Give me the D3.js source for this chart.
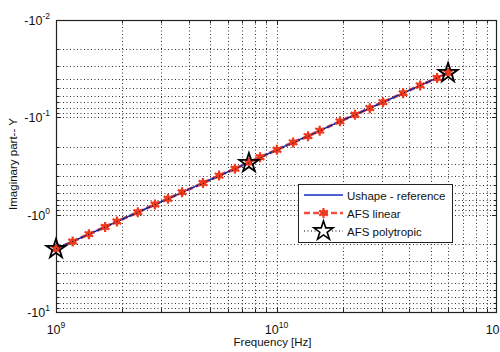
<!DOCTYPE html>
<html>
<head>
<meta charset="utf-8">
<script src="https://cdn.jsdelivr.net/npm/d3@7"></script>
<style>
  body { margin: 0; background: #fff; }
  text { font-family: "Liberation Sans", Arial, sans-serif; fill: #111; }
</style>
</head>
<body>
<div id="chart"></div>
<script>
// frequencies in GHz, imaginary part magnitude (axis shows -|Y|)
var freqGHz = [1, 1.19, 1.41, 1.67, 1.89, 2.35, 2.81, 3.22, 3.73, 4.64, 5.49, 6.48, 7.5,
               8.42, 10.05, 11.9, 13.9, 15.7, 19.4, 22.7, 26.5, 30.4, 37.5, 44.8, 53.5, 60];
var refY = [2.25, 1.885, 1.587, 1.337, 1.177, 0.944, 0.787, 0.685, 0.590, 0.472, 0.398, 0.336, 0.290,
            0.258, 0.215, 0.181, 0.155, 0.137, 0.110, 0.094, 0.0803, 0.0699, 0.0564, 0.0471, 0.0393, 0.0350];
var linearY = [2.25, 1.89, 1.585, 1.34, 1.175, 0.945, 0.785, 0.686, 0.589, 0.473, 0.397, 0.337, 0.291,
               0.257, 0.215, 0.181, 0.156, 0.137, 0.110, 0.094, 0.0805, 0.0698, 0.0565, 0.0470, 0.0394, 0.0350];
var polyFreqGHz = [1, 7.5, 60];
var polyY = [2.25, 0.295, 0.035];

var xTickExp = [9, 10, 11];
var yTickExp = [-2, -1, 0, 1];
var legendLabels = ["Ushape - reference", "AFS linear", "AFS polytropic"];

var width = 500, height = 352;
var margin = { top: 20, right: 3, bottom: 40, left: 56 };

var svg = d3.select("#chart").append("svg")
    .attr("width", width)
    .attr("height", height);

var x = d3.scaleLog().domain([1e9, 1e11]).range([margin.left, width - margin.right]);
var y = d3.scaleLog().domain([1e-2, 10]).range([margin.top, height - margin.bottom]);

var x0 = x.range()[0], x1 = x.range()[1], y0 = y.range()[0], y1 = y.range()[1];

// grid lines (major + minor, all dotted)
var xGrid = [], yGrid = [];
[1e9, 1e10].forEach(function(d) { for (var k = 1; k < 10; k++) xGrid.push(d * k); });
[1e-2, 1e-1, 1].forEach(function(d) { for (var k = 1; k < 10; k++) yGrid.push(d * k); });

var grid = svg.append("g")
    .attr("stroke", "#333")
    .attr("stroke-width", 1)
    .attr("stroke-dasharray", "1,2.5");

grid.selectAll(".gx").data(xGrid.slice(1)).enter().append("line")
    .attr("x1", d => Math.round(x(d)) + 0.5).attr("x2", d => Math.round(x(d)) + 0.5)
    .attr("y1", y0).attr("y2", y1);
grid.selectAll(".gy").data(yGrid.slice(1)).enter().append("line")
    .attr("y1", d => Math.round(y(d)) + 0.5).attr("y2", d => Math.round(y(d)) + 0.5)
    .attr("x1", x0).attr("x2", x1);

// inner ticks on all sides
var ticks = svg.append("g").attr("stroke", "#222").attr("stroke-width", 1);
xGrid.slice(1).forEach(function(d, i) {
    var len = (i % 9 === 8) ? 5 : 3;
    var px = Math.round(x(d)) + 0.5;
    ticks.append("line").attr("x1", px).attr("x2", px).attr("y1", y1).attr("y2", y1 - len);
    ticks.append("line").attr("x1", px).attr("x2", px).attr("y1", y0).attr("y2", y0 + len);
});
yGrid.slice(1).forEach(function(d, i) {
    var len = (i % 9 === 8) ? 5 : 3;
    var py = Math.round(y(d)) + 0.5;
    ticks.append("line").attr("y1", py).attr("y2", py).attr("x1", x0).attr("x2", x0 + len);
    ticks.append("line").attr("y1", py).attr("y2", py).attr("x1", x1).attr("x2", x1 - len);
});

// frame
svg.append("rect")
    .attr("x", x0 + 0.5).attr("y", y0 + 0.5)
    .attr("width", x1 - x0 - 1).attr("height", y1 - y0)
    .attr("fill", "none").attr("stroke", "#222").attr("stroke-width", 1.2);

// tick labels
xTickExp.forEach(function(e) {
    var t = svg.append("text")
        .attr("x", x(Math.pow(10, e)))
        .attr("y", y1 + 22)
        .attr("text-anchor", "middle")
        .style("font-size", "12.5px");
    t.append("tspan").text("10");
    t.append("tspan").attr("dy", -6).style("font-size", "8.5px").text(e);
});
yTickExp.forEach(function(e) {
    var t = svg.append("text")
        .attr("x", x0 - 6)
        .attr("y", y(Math.pow(10, e)) + 5)
        .attr("text-anchor", "end")
        .style("font-size", "12.5px");
    t.append("tspan").text("-10");
    t.append("tspan").attr("dy", -6).style("font-size", "8.5px").text(e);
});

// axis titles
svg.append("text")
    .attr("x", (x0 + x(1e11 * 0.96)) / 2 - 2)
    .attr("y", height - 6)
    .attr("text-anchor", "middle")
    .style("font-size", "11.5px")
    .text("Frequency [Hz]");
svg.append("text")
    .attr("transform", "translate(17," + ((y0 + y1) / 2 - 2) + ") rotate(-90)")
    .attr("text-anchor", "middle")
    .style("font-size", "11.5px")
    .text("Imaginary part-- Y");

// series
var lineRef = d3.line().x((d, i) => x(freqGHz[i] * 1e9)).y(d => y(d));
var linePoly = d3.line().x((d, i) => x(polyFreqGHz[i] * 1e9)).y(d => y(d));

svg.append("path").datum(linearY)
    .attr("d", lineRef)
    .attr("fill", "none").attr("stroke", "#f03020").attr("stroke-width", 3)
    .attr("stroke-dasharray", "6,3").attr("opacity", 0.85);

svg.append("path").datum(refY)
    .attr("d", lineRef)
    .attr("fill", "none").attr("stroke", "#1030c0").attr("stroke-width", 1.5);

var star = d3.symbol().type(d3.symbolStar).size(115);
var aster = d3.symbol().type(d3.symbolAsterisk).size(70);

svg.append("g").selectAll("circle").data(linearY).enter().append("circle")
    .attr("cx", (d, i) => x(freqGHz[i] * 1e9)).attr("cy", d => y(d))
    .attr("r", 3.2).attr("fill", "#f02a1a").attr("opacity", 0.9);
svg.append("g").selectAll("path").data(linearY).enter().append("path")
    .attr("transform", (d, i) => "translate(" + x(freqGHz[i] * 1e9) + "," + y(d) + ")")
    .attr("d", aster).attr("fill", "none").attr("stroke", "#f03a20").attr("stroke-width", 2.2);

svg.append("path").datum(polyY)
    .attr("d", linePoly)
    .attr("fill", "none").attr("stroke", "#000").attr("stroke-width", 1)
    .attr("stroke-dasharray", "1,2.5");
svg.append("g").selectAll("path").data(polyY).enter().append("path")
    .attr("transform", (d, i) => "translate(" + x(polyFreqGHz[i] * 1e9) + "," + y(d) + ")")
    .attr("d", star).attr("fill", "none").attr("stroke", "#000").attr("stroke-width", 1.8);

// legend
var lg = svg.append("g").attr("transform", "translate(298,184)");
lg.append("rect").attr("x", 0.5).attr("y", 0.5).attr("width", 154).attr("height", 58)
    .attr("fill", "#fff").attr("stroke", "#222").attr("stroke-width", 1);
var rowY = [11, 29, 47];
legendLabels.forEach(function(label, i) {
    lg.append("text").attr("x", 49).attr("y", rowY[i] + 4.5)
        .style("font-size", "11.5px").text(label);
});
lg.append("line").attr("x1", 6).attr("x2", 45).attr("y1", rowY[0]).attr("y2", rowY[0])
    .attr("stroke", "#1030c0").attr("stroke-width", 1.5);
lg.append("line").attr("x1", 6).attr("x2", 45).attr("y1", rowY[1]).attr("y2", rowY[1])
    .attr("stroke", "#f03020").attr("stroke-width", 2.5).attr("stroke-dasharray", "6,3").attr("opacity", 0.85);
lg.append("circle").attr("cx", 25.5).attr("cy", rowY[1]).attr("r", 3).attr("fill", "#f02a1a");
lg.append("path").attr("transform", "translate(25.5," + rowY[1] + ")").attr("d", aster)
    .attr("fill", "none").attr("stroke", "#f03a20").attr("stroke-width", 2.2);
lg.append("line").attr("x1", 6).attr("x2", 45).attr("y1", rowY[2]).attr("y2", rowY[2])
    .attr("stroke", "#000").attr("stroke-width", 1).attr("stroke-dasharray", "1,2.5");
lg.append("path").attr("transform", "translate(25.5," + rowY[2] + ")").attr("d", star)
    .attr("fill", "#fff").attr("stroke", "#000").attr("stroke-width", 1.6);
</script>
</body>
</html>
